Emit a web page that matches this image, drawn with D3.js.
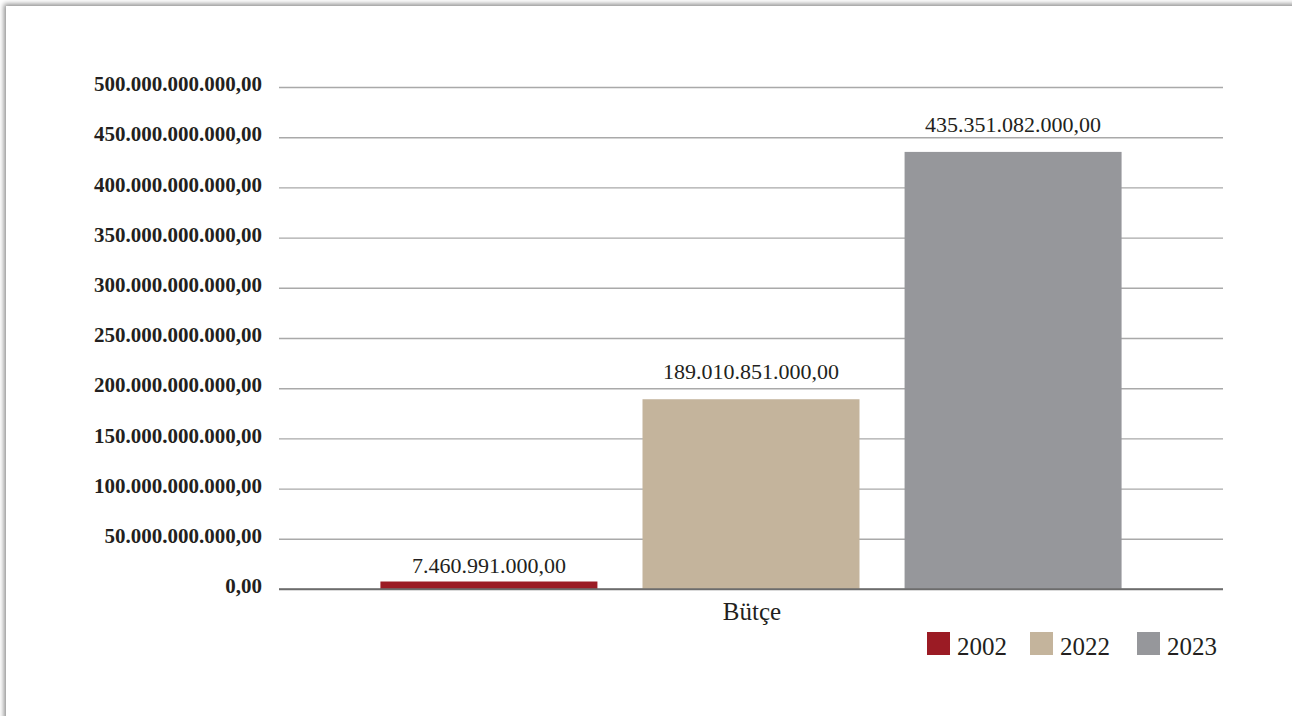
<!DOCTYPE html>
<html>
<head>
  <meta charset="utf-8">
  <title>Bütçe</title>
  <style>
    html, body { margin: 0; padding: 0; background: #fff; overflow: hidden; }
    #frame { position: absolute; left: 6px; top: 6px; width: 1400px; height: 800px; background: #fff; box-shadow: -2px -2px 5px rgba(0,0,0,0.45); }
    svg { position: absolute; left: 0; top: 0; }
    text { font-family: 'Liberation Serif', 'DejaVu Serif', serif; fill: #231f20; }
    .tick text { font-weight: bold; font-size: 21px; }
  </style>
</head>
<body>
  <div id="frame"></div>
  <div id="chart"></div>

  <script src="https://cdn.jsdelivr.net/npm/d3@7/dist/d3.min.js"></script>
  <script>
    const categories = ['Bütçe'];
    const years = ['2002', '2022', '2023'];
    const values = [7460991000, 189010851000, 435351082000];
    const barColors = ['#9b1b24', '#c4b49c', '#96979b'];
    const yTicks = [0, 50e9, 100e9, 150e9, 200e9, 250e9, 300e9, 350e9, 400e9, 450e9, 500e9];

    const width = 1292;
    const height = 716;
    const plot = { left: 279, right: 1223, top: 87, bottom: 589 };

    const tr = d3.formatLocale({ decimal: ',', thousands: '.', grouping: [3], currency: ['', ' TL'] });
    const fmt = tr.format(',.2f');

    const svg = d3.select('#chart')
      .append('svg')
      .attr('width', width)
      .attr('height', height);

    const y = d3.scaleLinear()
      .domain([0, 500e9])
      .range([plot.bottom, plot.top]);

    const x0 = d3.scaleBand()
      .domain(categories)
      .range([plot.left, plot.right]);

    const x1 = d3.scaleBand()
      .domain(years)
      .range([0, x0.bandwidth()])
      .paddingInner(0.172)
      .paddingOuter(0.387);

    const color = d3.scaleOrdinal().domain(years).range(barColors);

    // gridlines + labels
    const yAxis = svg.append('g')
      .attr('transform', `translate(${plot.left},0)`)
      .call(d3.axisLeft(y)
        .tickValues(yTicks)
        .tickFormat(fmt)
        .tickSize(-(plot.right - plot.left))
        .tickPadding(17));

    yAxis.select('.domain').remove();
    yAxis.selectAll('.tick line')
      .attr('stroke', d => d === 0 ? '#6d6d6d' : '#a9a9a9')
      .attr('stroke-width', 1.4);
    yAxis.selectAll('.tick text')
      .attr('dy', '0.18em');

    const rows = categories.map(c => years.map((yr, i) => ({ cat: c, year: yr, value: values[i] })));

    const group = svg.append('g')
      .selectAll('g')
      .data(rows)
      .enter()
      .append('g')
      .attr('transform', d => `translate(${x0(d[0].cat)},0)`);

    group.selectAll('rect')
      .data(d => d)
      .enter()
      .append('rect')
      .attr('x', d => x1(d.year))
      .attr('y', d => y(d.value))
      .attr('width', x1.bandwidth())
      .attr('height', d => y(0) - y(d.value))
      .attr('fill', d => color(d.year));

    // labels sit 20px above the bar, short bars get them just over the baseline
    group.selectAll('text.val')
      .data(d => d)
      .enter()
      .append('text')
      .attr('class', 'val')
      .attr('x', d => x1(d.year) + x1.bandwidth() / 2)
      .attr('y', d => (y(0) - y(d.value) < 20) ? y(0) - 16 : y(d.value) - 20)
      .attr('text-anchor', 'middle')
      .style('font-size', '22px')
      .text(d => fmt(d.value));

    // redraw baseline on top of bars
    svg.append('line')
      .attr('x1', plot.left)
      .attr('x2', plot.right)
      .attr('y1', y(0))
      .attr('y2', y(0))
      .attr('stroke', '#6d6d6d')
      .attr('stroke-width', 1.4);

    // category label
    svg.append('g')
      .selectAll('text')
      .data(categories)
      .enter()
      .append('text')
      .attr('x', d => x0(d) + x0.bandwidth() / 2 + 1)
      .attr('y', 620)
      .attr('text-anchor', 'middle')
      .style('font-size', '25px')
      .text(d => d);

    // legend
    const legendX = [927, 1030, 1137];
    const legend = svg.append('g')
      .selectAll('g')
      .data(years)
      .enter()
      .append('g')
      .attr('transform', (d, i) => `translate(${legendX[i]},632)`);

    legend.append('rect')
      .attr('width', 23)
      .attr('height', 23)
      .attr('fill', d => color(d));

    legend.append('text')
      .attr('x', 30)
      .attr('y', 23)
      .style('font-size', '25px')
      .text(d => d);
  </script>
</body>
</html>
